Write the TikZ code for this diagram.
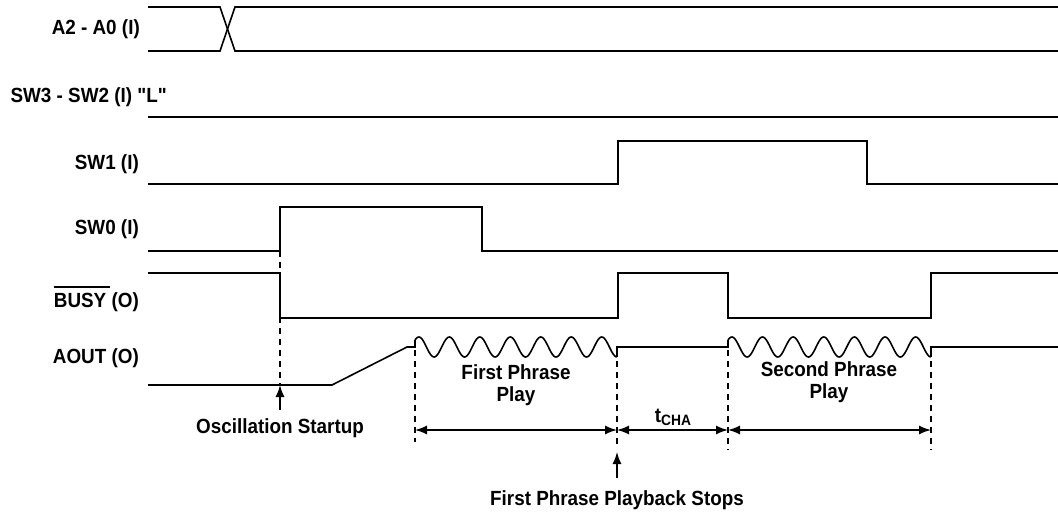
\documentclass[tikz,border=0pt]{standalone}
\usepackage{fontspec}
\setmainfont{Liberation Sans}[Ligatures=TeXOff, FakeStretch=0.92]
\usetikzlibrary{arrows.meta}
\begin{document}
\begin{tikzpicture}[x=1pt,y=-1pt,
  sig/.style={line width=1.6pt, line join=miter},
  guide/.style={line width=1.3pt, dash pattern=on 6pt off 5pt},
  dimarrow/.style={line width=1.4pt, {Latex[length=12pt,width=9pt]}-{Latex[length=12pt,width=9pt]}},
  uparrow/.style={line width=1.4pt, -{Latex[length=12pt,width=9pt]}},
  lbl/.style={font=\fontsize{20.5}{22}\selectfont\bfseries, inner sep=0pt, anchor=base east},
  txt/.style={font=\fontsize{20.5}{22}\selectfont\bfseries, inner sep=0pt, align=center, anchor=base}]
\useasboundingbox (0,0) rectangle (1058,513);

% ---- labels
\node[lbl] (la) at (140,35) {A2 - A0 (I)};
\node[lbl] (lsw3) at (167,103) {SW3 - SW2 (I) "L"};
\node[lbl] (lsw1) at (139,170) {SW1 (I)};
\node[lbl] (lsw0) at (139,235) {SW0 (I)};
\node[lbl] (lbusy) at (139,308) {BUSY (O)};
\draw[line width=1.3pt] ([yshift=21pt]lbusy.base west) -- ++(56,0);
\node[lbl] (laout) at (139,363) {AOUT (O)};

% ---- key time coordinates
\coordinate (t0) at (280,0);
\coordinate (t1) at (415,0);
\coordinate (t2) at (617,0);
\coordinate (t3) at (728,0);
\coordinate (t4) at (931,0);

% ---- A2 - A0 (bus)
\draw[sig] (148,7) -- (220,7) -- (235,51) -- (1058,51);
\draw[sig] (148,51) -- (220,51) -- (235,7) -- (1058,7);

% ---- SW3 - SW2
\draw[sig] (148,117) -- (1058,117);

% ---- SW1
\draw[sig] (148,184) -- (618,184) -- (618,141) -- (867,141) -- (867,184) -- (1058,184);

% ---- SW0
\draw[sig] (148,251) -- (280,251) -- (280,207) -- (482,207) -- (482,251) -- (1058,251);

% ---- BUSY
\draw[sig] (148,273) -- (280,273) -- (280,318) -- (618,318) -- (618,273) -- (728,273)
  -- (728,318) -- (931,318) -- (931,273) -- (1058,273);

% ---- AOUT
\draw[sig] (148,385) -- (332,385) -- (407,347) -- (415,347) -- (415,340);
\draw[sig] plot[domain=0:1, samples=200, smooth] ({415+202*\x},{347-10*sin(45+2385*\x)});
\draw[sig] (617,357) -- (617,347) -- (728,347) -- (728,340);
\draw[sig] plot[domain=0:1, samples=200, smooth] ({728+203*\x},{347-10*sin(45+2385*\x)});
\draw[sig] (931,357) -- (931,347) -- (1058,347);

% ---- guide lines
\draw[guide] (280,251) -- (280,385);
\draw[guide] (415,350) -- (415,442);
\draw[guide] (617,350) -- (617,446);
\draw[guide] (728,350) -- (728,450);
\draw[guide] (931,350) -- (931,450);

% ---- dimension arrows
\coordinate (d1) at (415,430);
\coordinate (d2) at (617,430);
\coordinate (d3) at (728,430);
\coordinate (d4) at (931,430);
\draw[dimarrow] (d1) -- (d2);
\draw[dimarrow] (d2) -- (d3);
\draw[dimarrow] (d3) -- (d4);

\node[txt] (fpp) at (516,401) {First Phrase\\Play};
\node[txt] (tcha) at (673,422) {t\raisebox{-0.35ex}{\fontsize{15}{15}\selectfont\bfseries CHA}};
\node[txt] (spp) at (829,398) {Second Phrase\\Play};

% ---- pointers
\coordinate (osc) at (280,385);
\node[txt] (osct) at (280,433) {Oscillation Startup};
\coordinate (osctail) at (280,410);
\draw[uparrow] (osctail) -- (osc);

\coordinate (stop) at (617,452);
\coordinate (stoptail) at (617,478);
\node[txt] (stopt) at (617,505) {First Phrase Playback Stops};
\draw[uparrow] (stoptail) -- (stop);
\end{tikzpicture}
\end{document}
